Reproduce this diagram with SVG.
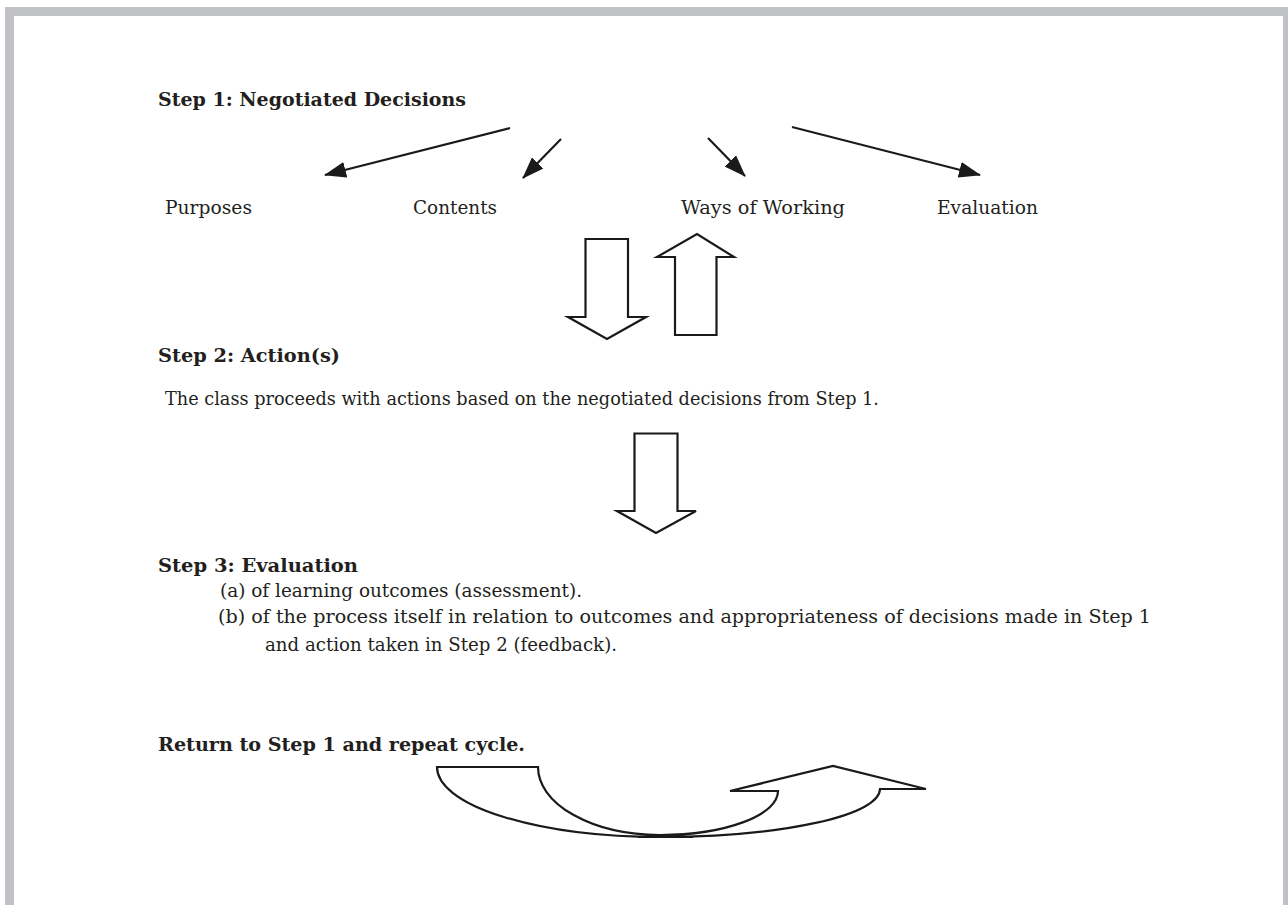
<svg xmlns="http://www.w3.org/2000/svg" width="1288" height="905" viewBox="0 0 1288 905">
<defs>
<style>
.t{font-family:"DejaVu Serif","Liberation Serif",serif;font-size:18.5px;fill:#231f20}
.b{font-weight:bold;font-size:18px}
.ln{stroke:#1a1a1a;stroke-width:2.2;fill:none}
.sh{stroke:#1a1a1a;stroke-width:2.2;fill:#fff;stroke-linejoin:miter}
</style>
<marker id="ah2" markerWidth="22" markerHeight="16" refX="21" refY="8" orient="auto" markerUnits="userSpaceOnUse">
<path d="M0,0 L22,8 L0,16 Z" fill="#1a1a1a"/>
</marker>
</defs>
<rect width="1288" height="905" fill="#fff"/>
<path d="M9.5,905 V11.5 H1292" fill="none" stroke="#c1c2c6" stroke-width="9"/>
<rect x="1283" y="7" width="5" height="898" fill="#c1c2c6"/>

<g id="step1"><text class="t b" x="158" y="106" textLength="308" lengthAdjust="spacingAndGlyphs">Step 1: Negotiated Decisions</text></g>
<g id="purposes"><text class="t" x="165" y="214" textLength="87" lengthAdjust="spacingAndGlyphs">Purposes</text></g>
<g id="contents"><text class="t" x="413" y="214" textLength="84" lengthAdjust="spacingAndGlyphs">Contents</text></g>
<g id="ways"><text class="t" x="681" y="214" textLength="164" lengthAdjust="spacingAndGlyphs">Ways of Working</text></g>
<g id="evaluation"><text class="t" x="937" y="214" textLength="101" lengthAdjust="spacingAndGlyphs">Evaluation</text></g>

<g id="connectors">
<line class="ln" x1="510" y1="128" x2="325" y2="175" marker-end="url(#ah2)"/>
<line class="ln" x1="561" y1="139" x2="523" y2="178" marker-end="url(#ah2)"/>
<line class="ln" x1="708" y1="138" x2="745" y2="176" marker-end="url(#ah2)"/>
<line class="ln" x1="792" y1="127" x2="980" y2="175" marker-end="url(#ah2)"/>
</g>

<g id="arrow-down-1"><path class="sh" d="M585.5,239 H628 V317 H646 L607,339 L568,317 H585.5 Z"/></g>
<g id="arrow-up-1"><path class="sh" d="M675,335 H716.5 V257 H734 L697,234 L657,257 H675 Z"/></g>

<g id="step2">
<text class="t b" x="158" y="362" textLength="182" lengthAdjust="spacingAndGlyphs">Step 2: Action(s)</text>
<text class="t" x="165" y="405" textLength="714" lengthAdjust="spacingAndGlyphs">The class proceeds with actions based on the negotiated decisions from Step 1.</text>
</g>

<g id="arrow-down-2"><path class="sh" d="M634.5,433.5 H677.5 V511 H696 L656,533 L617,511 H634.5 Z"/></g>

<g id="step3">
<text class="t b" x="158" y="572" textLength="200" lengthAdjust="spacingAndGlyphs">Step 3: Evaluation</text>
<text class="t" x="220" y="597" textLength="362" lengthAdjust="spacingAndGlyphs">(a) of learning outcomes (assessment).</text>
<text class="t" x="218" y="623" textLength="933" lengthAdjust="spacingAndGlyphs">(b) of the process itself in relation to outcomes and appropriateness of decisions made in Step 1</text>
<text class="t" x="265" y="651" textLength="352" lengthAdjust="spacingAndGlyphs">and action taken in Step 2 (feedback).</text>
</g>

<g id="return"><text class="t b" x="158" y="751" textLength="367" lengthAdjust="spacingAndGlyphs">Return to Step 1 and repeat cycle.</text></g>

<g id="cycle-arrow">
<path class="sh" d="M437,767 H538 A122,68 0 0 0 660,835 A118,44 0 0 0 778,791 H730 L833,766 L926,789 H880 A220,48 0 0 1 660,837 A223,70 0 0 1 437,767 Z"/>
<line class="ln" x1="638" y1="837" x2="693" y2="837"/>
</g>
</svg>
